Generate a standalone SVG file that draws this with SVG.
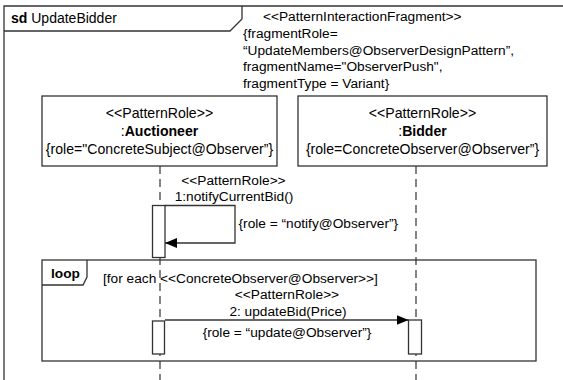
<svg xmlns="http://www.w3.org/2000/svg" width="563" height="380" viewBox="0 0 563 380">
  <defs>
    <style>
      text { font-family: "Liberation Sans", Arial, sans-serif; font-size: 13.7px; fill: #000; }
      .c { text-anchor: middle; }
      .b { font-weight: bold; }
      .big { font-size: 14.1px; }
      .ln { fill: none; stroke: #333; stroke-width: 1.3; }
      .box { fill: #fff; stroke: #333; stroke-width: 1.3; }
      .life { fill: none; stroke: #333; stroke-width: 1.2; stroke-dasharray: 8 5; }
      .msg { fill: none; stroke: #333; stroke-width: 1.3; }
    </style>
    <marker id="arrow" viewBox="0 0 12 10" refX="12" refY="5" markerWidth="12" markerHeight="10" markerUnits="userSpaceOnUse" orient="auto">
      <path d="M0,0 L12,5 L0,10 Z" fill="#000"/>
    </marker>
  </defs>
  <rect width="563" height="380" fill="#fff"/>

  <!-- sequence diagram frame -->
  <g id="frame">
    <path class="ln" d="M4,380 V6 H563"/>
    <path class="ln" d="M4,31 H230 L242,19 V6"/>
    <text x="11" y="23" style="font-size:14px"><tspan class="b">sd</tspan> UpdateBidder</text>
  </g>

  <!-- fragment annotation -->
  <g id="fragment-note">
    <text x="263" y="21">&lt;&lt;PatternInteractionFragment&gt;&gt;</text>
    <text x="243" y="38">{fragmentRole=</text>
    <text x="243" y="54.5">“UpdateMembers@ObserverDesignPattern”,</text>
    <text x="243" y="71">fragmentName="ObserverPush",</text>
    <text x="243" y="88">fragmentType = Variant}</text>
  </g>

  <!-- lifelines -->
  <g id="lifelines">
    <line class="life" x1="160" y1="166" x2="160" y2="380"/>
    <line class="life" x1="416" y1="166" x2="416" y2="380"/>
  </g>

  <g id="auctioneer">
    <rect class="box" x="42" y="96" width="235" height="70"/>
    <text class="c big" x="159.5" y="118">&lt;&lt;PatternRole&gt;&gt;</text>
    <text class="c big" x="159.5" y="136">:<tspan class="b">Auctioneer</tspan></text>
    <text class="c big" x="159.5" y="154">{role="ConcreteSubject@Observer”}</text>
  </g>

  <g id="bidder">
    <rect class="box" x="298" y="96" width="249" height="70"/>
    <text class="c big" x="422.5" y="118">&lt;&lt;PatternRole&gt;&gt;</text>
    <text class="c big" x="422.5" y="136">:<tspan class="b">Bidder</tspan></text>
    <text class="c big" x="422.5" y="154">{role=ConcreteObserver@Observer”}</text>
  </g>

  <!-- loop combined fragment -->
  <g id="loop">
    <rect class="ln" x="42" y="260" width="494" height="101"/>
    <path class="ln" d="M42,285 H83 L87,277 V260"/>
    <text class="b" x="51" y="278">loop</text>
    <text x="103" y="283">[for each <tspan>&lt;&lt;ConcreteObserver@Observer&gt;&gt;]</tspan></text>
  </g>

  <!-- activations -->
  <g id="activations">
    <rect class="box" x="152.5" y="205.5" width="12.5" height="52"/>
    <rect class="box" x="152.5" y="321" width="12" height="33"/>
    <rect class="box" x="408.5" y="320" width="13" height="34"/>
  </g>

  <!-- messages -->
  <g id="connectors">
    <path class="msg" d="M165,205.5 H235 V243 H165" marker-end="url(#arrow)"/>
    <line class="msg" x1="165" y1="320" x2="408.5" y2="320" marker-end="url(#arrow)"/>
  </g>

  <g id="message-labels">
    <text class="c" x="233.5" y="185">&lt;&lt;PatternRole&gt;&gt;</text>
    <text class="c" x="234" y="201">1:notifyCurrentBid()</text>
    <text x="238.5" y="227.5">{role = “notify@Observer”}</text>
    <text class="c" x="287" y="299">&lt;&lt;PatternRole&gt;&gt;</text>
    <text class="c" x="288" y="316">2: updateBid(Price)</text>
    <text class="c" x="287" y="336.5">{role = “update@Observer”}</text>
  </g>
</svg>
